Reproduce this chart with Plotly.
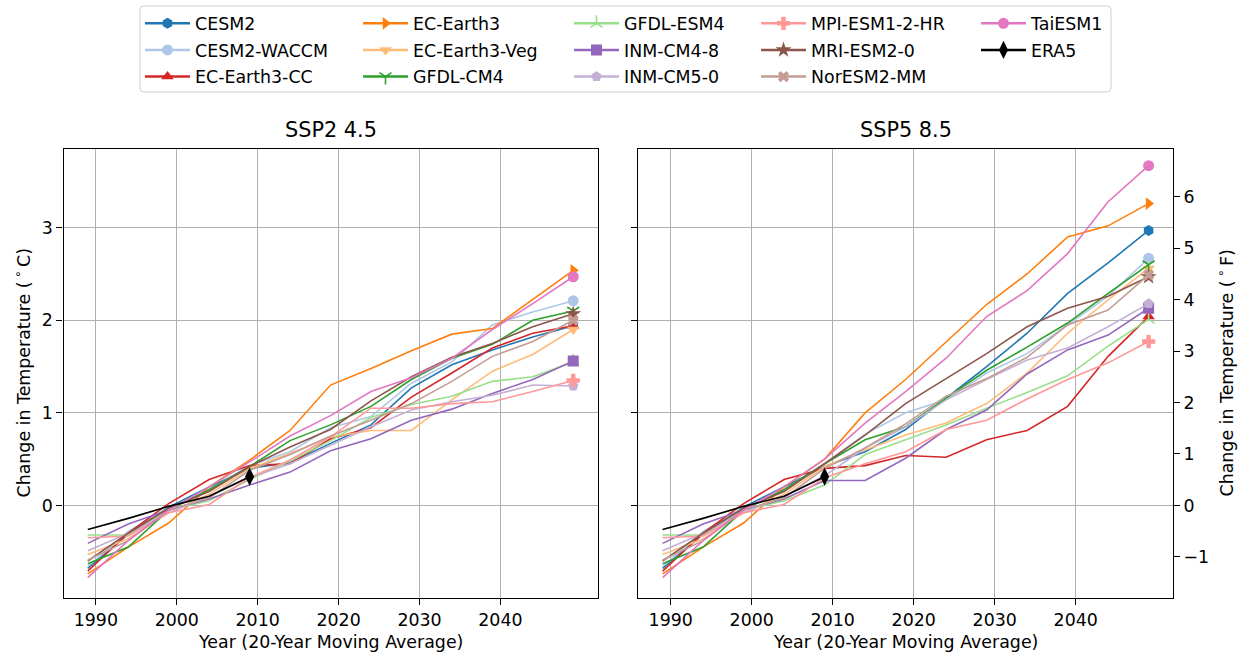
import plotly.graph_objects as go

W, H = 1238, 653

# Centre years of the 20-year moving windows
years = [1989, 1994, 1999, 2004, 2009, 2014, 2019, 2024, 2029, 2034, 2039, 2044, 2049]
era5_years = [1989, 1994, 1999, 2004, 2009]
era5 = [-0.26, -0.14, -0.01, 0.10, 0.31]

models = ["CESM2", "CESM2-WACCM", "EC-Earth3-CC", "EC-Earth3", "EC-Earth3-Veg",
          "GFDL-CM4", "GFDL-ESM4", "INM-CM4-8", "INM-CM5-0", "MPI-ESM1-2-HR",
          "MRI-ESM2-0", "NorESM2-MM", "TaiESM1"]

colors = ["#1f77b4", "#aec7e8", "#d62728", "#ff7f0e", "#ffbb78",
          "#2ca02c", "#98df8a", "#9467bd", "#c5b0d5", "#ff9896",
          "#8c564b", "#c49c94", "#e377c2"]
symbols = ["hexagon", "circle", "triangle-up", "triangle-right", "triangle-down",
           "y-down-open", "y-up-open", "square", "pentagon", "cross",
           "star", "x", "circle"]

# SSP2 4.5 temperature change (deg C)
cesm2_245 = [-0.68, -0.31, -0.02, 0.20, 0.40, 0.46, 0.67, 0.87, 1.27, 1.52, 1.68, 1.82, 1.94]
cesm2_waccm_245 = [-0.66, -0.28, -0.03, 0.17, 0.43, 0.58, 0.84, 0.96, 1.32, 1.55, 1.95, 2.09, 2.21]
ec_earth3_cc_245 = [-0.71, -0.30, 0.02, 0.28, 0.43, 0.45, 0.72, 0.84, 1.17, 1.43, 1.70, 1.86, 1.94]
ec_earth3_245 = [-0.74, -0.45, -0.19, 0.20, 0.49, 0.81, 1.30, 1.48, 1.67, 1.85, 1.91, 2.23, 2.54]
ec_earth3_veg_245 = [-0.53, -0.36, -0.08, 0.12, 0.40, 0.56, 0.74, 0.81, 0.81, 1.14, 1.45, 1.63, 1.90]
gfdl_cm4_245 = [-0.63, -0.45, -0.05, 0.17, 0.42, 0.70, 0.87, 1.07, 1.36, 1.59, 1.74, 2.00, 2.10]
gfdl_esm4_245 = [-0.32, -0.32, -0.05, 0.05, 0.28, 0.48, 0.70, 0.95, 1.09, 1.18, 1.34, 1.39, 1.55]
inm_cm4_8_245 = [-0.41, -0.20, -0.05, 0.07, 0.22, 0.36, 0.59, 0.72, 0.92, 1.04, 1.21, 1.36, 1.56]
inm_cm5_0_245 = [-0.49, -0.30, -0.08, 0.10, 0.30, 0.45, 0.65, 0.85, 1.03, 1.12, 1.19, 1.30, 1.29]
mpi_esm1_2_hr_245 = [-0.35, -0.33, -0.08, 0.01, 0.30, 0.49, 0.74, 1.05, 1.05, 1.10, 1.12, 1.23, 1.35]
mri_esm2_0_245 = [-0.60, -0.30, -0.03, 0.15, 0.42, 0.63, 0.82, 1.13, 1.39, 1.60, 1.75, 1.93, 2.07]
noresm2_mm_245 = [-0.59, -0.38, -0.05, 0.08, 0.38, 0.55, 0.75, 0.92, 1.10, 1.34, 1.61, 1.77, 2.00]
taiesm1_245 = [-0.78, -0.38, -0.05, 0.20, 0.47, 0.75, 0.97, 1.23, 1.38, 1.59, 1.90, 2.18, 2.47]

# SSP5 8.5 temperature change (deg C)
cesm2_585 = [-0.68, -0.31, -0.02, 0.20, 0.42, 0.58, 0.82, 1.16, 1.50, 1.86, 2.29, 2.62, 2.97]
cesm2_waccm_585 = [-0.66, -0.28, -0.03, 0.17, 0.45, 0.77, 1.00, 1.14, 1.43, 1.64, 1.95, 2.26, 2.67]
ec_earth3_cc_585 = [-0.71, -0.30, 0.02, 0.28, 0.40, 0.43, 0.54, 0.52, 0.71, 0.81, 1.07, 1.61, 2.04]
ec_earth3_585 = [-0.74, -0.45, -0.19, 0.20, 0.50, 1.00, 1.36, 1.77, 2.17, 2.50, 2.90, 3.02, 3.26]
ec_earth3_veg_585 = [-0.53, -0.36, -0.08, 0.12, 0.42, 0.60, 0.76, 0.89, 1.10, 1.43, 1.86, 2.22, 2.56]
gfdl_cm4_585 = [-0.63, -0.45, -0.05, 0.17, 0.45, 0.71, 0.85, 1.16, 1.46, 1.71, 1.97, 2.29, 2.60]
gfdl_esm4_585 = [-0.32, -0.32, -0.05, 0.05, 0.22, 0.55, 0.71, 0.87, 1.05, 1.22, 1.40, 1.72, 2.01]
inm_cm4_8_585 = [-0.41, -0.20, -0.05, 0.07, 0.27, 0.27, 0.51, 0.82, 1.03, 1.42, 1.68, 1.84, 2.13]
inm_cm5_0_585 = [-0.49, -0.30, -0.08, 0.10, 0.32, 0.62, 0.85, 1.14, 1.36, 1.57, 1.70, 1.93, 2.18]
mpi_esm1_2_hr_585 = [-0.35, -0.33, -0.08, 0.01, 0.30, 0.45, 0.58, 0.82, 0.92, 1.15, 1.36, 1.54, 1.77]
mri_esm2_0_585 = [-0.60, -0.30, -0.03, 0.15, 0.45, 0.76, 1.10, 1.37, 1.64, 1.93, 2.13, 2.26, 2.47]
noresm2_mm_585 = [-0.59, -0.38, -0.05, 0.08, 0.40, 0.62, 0.88, 1.18, 1.37, 1.60, 1.95, 2.11, 2.49]
taiesm1_585 = [-0.78, -0.38, -0.05, 0.20, 0.50, 0.89, 1.23, 1.59, 2.04, 2.32, 2.72, 3.28, 3.67]

ssp245 = [cesm2_245, cesm2_waccm_245, ec_earth3_cc_245, ec_earth3_245, ec_earth3_veg_245,
          gfdl_cm4_245, gfdl_esm4_245, inm_cm4_8_245, inm_cm5_0_245, mpi_esm1_2_hr_245,
          mri_esm2_0_245, noresm2_mm_245, taiesm1_245]
ssp585 = [cesm2_585, cesm2_waccm_585, ec_earth3_cc_585, ec_earth3_585, ec_earth3_veg_585,
          gfdl_cm4_585, gfdl_esm4_585, inm_cm4_8_585, inm_cm5_0_585, mpi_esm1_2_hr_585,
          mri_esm2_0_585, noresm2_mm_585, taiesm1_585]

x_ticks = [1990, 2000, 2010, 2020, 2030, 2040]
c_ticks = [0, 1, 2, 3]
f_ticks = [-1, 0, 1, 2, 3, 4, 5, 6]
c_range = [-1.0, 3.85]
f_range = [c_range[0] * 1.8, c_range[1] * 1.8]
x_range = [1986, 2052]

FONT = "DejaVu Sans"
FS = 17.4


def px_x(p):
    return p / W


def px_y(p):
    return 1 - p / H


# Legend laid out as five columns, each its own vertical legend inside one frame
legend_cols = [["CESM2", "CESM2-WACCM", "EC-Earth3-CC"],
               ["EC-Earth3", "EC-Earth3-Veg", "GFDL-CM4"],
               ["GFDL-ESM4", "INM-CM4-8", "INM-CM5-0"],
               ["MPI-ESM1-2-HR", "MRI-ESM2-0", "NorESM2-MM"],
               ["TaiESM1", "ERA5"]]
col_left = [140, 358, 569, 756, 976]
legend_ids = ["legend", "legend2", "legend3", "legend4", "legend5"]
which_legend = {}
for ci, col in enumerate(legend_cols):
    for name in col:
        which_legend[name] = legend_ids[ci]

fig = go.Figure()


def marker_for(sym, color, size):
    m = dict(symbol=sym, color=color, size=size)
    if sym.startswith("y-"):
        m["line"] = dict(color=color, width=1.6)
    else:
        m["line"] = dict(width=0)
    return m


marker_size = {"star": 12, "y-down-open": 10, "y-up-open": 10, "x": 10, "cross": 11}

panels = [(ssp245, "x", "y", True), (ssp585, "x2", "y2", False)]
for series, xa, ya, show in panels:
    for name, col, sym, vals in zip(models, colors, symbols, series):
        fig.add_trace(go.Scatter(x=years, y=vals, mode="lines", xaxis=xa, yaxis=ya,
                                 line=dict(color=col, width=1.6), showlegend=False,
                                 legendgroup=name, hoverinfo="skip"))
        fig.add_trace(go.Scatter(x=years[-1:], y=vals[-1:], mode="lines+markers",
                                 xaxis=xa, yaxis=ya, name=name, legendgroup=name,
                                 legend=which_legend[name],
                                 line=dict(color=col, width=2.6),
                                 marker=marker_for(sym, col, marker_size.get(sym, 11)),
                                 showlegend=show))
    fig.add_trace(go.Scatter(x=era5_years, y=era5, mode="lines", xaxis=xa, yaxis=ya,
                             line=dict(color="black", width=1.6), showlegend=False,
                             legendgroup="ERA5"))
    fig.add_trace(go.Scatter(x=era5_years[-1:], y=era5[-1:], mode="lines+markers",
                             xaxis=xa, yaxis=ya, name="ERA5", legendgroup="ERA5",
                             legend=which_legend["ERA5"],
                             line=dict(color="black", width=2.6),
                             marker=dict(symbol="diamond-tall", color="black", size=13),
                             showlegend=show))

# the Fahrenheit axis mirrors the Celsius one; one hidden point keeps it drawn
fig.add_trace(go.Scatter(x=[years[0]], y=[era5[0] * 1.8], xaxis="x2", yaxis="y3",
                         mode="markers", marker=dict(size=1, opacity=0),
                         showlegend=False, hoverinfo="skip"))

axis_common = dict(showline=True, linecolor="black", linewidth=1.3, mirror=True,
                   showgrid=True, gridcolor="#b0b0b0", gridwidth=1.4, zeroline=False,
                   ticks="outside", ticklen=6, tickwidth=1.3, tickcolor="black",
                   tickfont=dict(family=FONT, size=FS, color="black"))

dom_y = [px_y(598), px_y(149)]
dom_x1 = [px_x(63.5), px_x(597.5)]
dom_x2 = [px_x(638.3), px_x(1172.9)]

legends = {}
for lid, left in zip(legend_ids, col_left):
    legends[lid] = dict(orientation="v", x=px_x(left), y=px_y(5.5), xanchor="left",
                        yanchor="top", borderwidth=0, bgcolor="rgba(0,0,0,0)",
                        font=dict(family=FONT, size=FS, color="black"),
                        itemwidth=45, tracegroupgap=1, traceorder="grouped")

fig.update_layout(
    width=W, height=H,
    margin=dict(l=0, r=0, t=0, b=0, autoexpand=False),
    paper_bgcolor="white", plot_bgcolor="white",
    font=dict(family=FONT, size=FS, color="black"),
    xaxis=dict(domain=dom_x1, range=x_range, tickvals=x_ticks, anchor="y", **axis_common),
    yaxis=dict(domain=dom_y, range=c_range, tickvals=c_ticks, anchor="x", **axis_common),
    xaxis2=dict(domain=dom_x2, range=x_range, tickvals=x_ticks, anchor="y2", **axis_common),
    yaxis2=dict(domain=dom_y, range=c_range, tickvals=c_ticks, anchor="x2",
                showticklabels=False, **axis_common),
    yaxis3=dict(overlaying="y2", side="right", anchor="x2", range=f_range, tickvals=f_ticks,
                showgrid=False, zeroline=False, showline=False, ticks="outside", ticklen=6,
                tickwidth=1.3, tickcolor="black",
                tickfont=dict(family=FONT, size=FS, color="black")),
    showlegend=True,
    **legends,
)

# rounded frame around the legend columns
x0, x1, y0, y1 = px_x(140), px_x(1111), px_y(92), px_y(6)
rx, ry = 4 / W, 4 / H
frame = (f"M{x0 + rx},{y1} L{x1 - rx},{y1} Q{x1},{y1} {x1},{y1 - ry} "
         f"L{x1},{y0 + ry} Q{x1},{y0} {x1 - rx},{y0} L{x0 + rx},{y0} "
         f"Q{x0},{y0} {x0},{y0 + ry} L{x0},{y1 - ry} Q{x0},{y1} {x0 + rx},{y1} Z")
fig.add_shape(type="path", path=frame, xref="paper", yref="paper",
              line=dict(color="#d0d0d0", width=1), fillcolor="rgba(0,0,0,0)", layer="below")

annotations = [
    dict(text="SSP2 4.5", x=px_x(330.5), y=px_y(130), xanchor="center", yanchor="middle",
         font=dict(size=20.8)),
    dict(text="SSP5 8.5", x=px_x(905.6), y=px_y(130), xanchor="center", yanchor="middle",
         font=dict(size=20.8)),
    dict(text="Year (20-Year Moving Average)", x=px_x(330.5), y=px_y(642),
         xanchor="center", yanchor="middle"),
    dict(text="Year (20-Year Moving Average)", x=px_x(905.6), y=px_y(642),
         xanchor="center", yanchor="middle"),
    dict(text="Change in Temperature (\u2009<sup>∘</sup>\u2009C)", x=px_x(22), y=px_y(373.5),
         xanchor="center", yanchor="middle", textangle=-90),
    dict(text="Change in Temperature (\u2009<sup>∘</sup>\u2009F)", x=px_x(1225), y=px_y(373.5),
         xanchor="center", yanchor="middle", textangle=-90),
]
for a in annotations:
    a.update(xref="paper", yref="paper", showarrow=False)
    a.setdefault("font", {})
    a["font"].update(family=FONT, color="black")
    a["font"].setdefault("size", FS)
fig.update_layout(annotations=annotations)

fig.write_html("out.html")
